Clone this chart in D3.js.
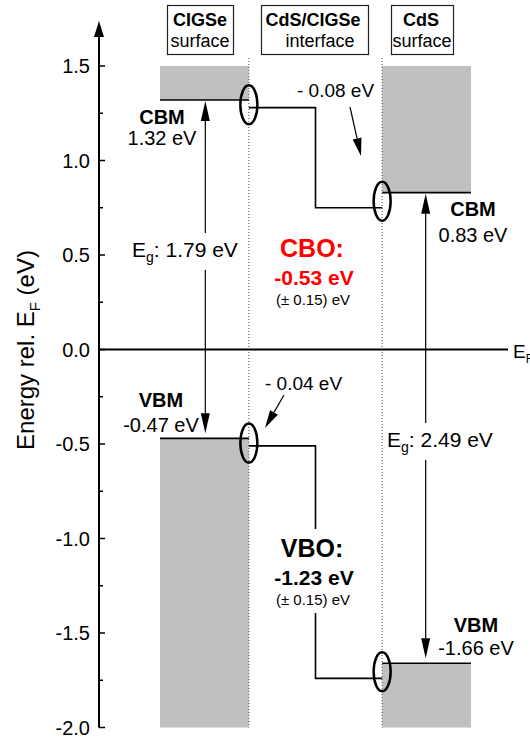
<!DOCTYPE html>
<html>
<head>
<meta charset="utf-8">
<script src="https://cdn.jsdelivr.net/npm/d3@7"></script>
<style>
body { margin: 0; background: #fff; }
text { font-family: "Liberation Sans", Arial, sans-serif; }
</style>
</head>
<body>
<div id="chart"></div>
<script>
// band positions in eV, relative to E_F
let regionTitle = ["CIGSe", "CdS/CIGSe", "CdS"];
let regionSub = ["surface", "interface", "surface"];
let cbm = [1.32, 0.83];          // CIGSe, CdS (surface)
let vbm = [-0.47, -1.66];
let ifShift = [-0.04, -0.08];    // shift at the interface
let gaps = [1.79, 2.49];
let cbo = -0.53, vbo = -1.23, offErr = 0.15;
let yTicks = [-2.0, -1.5, -1.0, -0.5, 0.0, 0.5, 1.0, 1.5];
let yMinor = [-1.75, -1.25, -0.75, -0.25, 0.25, 0.75, 1.25];

let width = 530, height = 738;
let svg = d3.select('#chart').append('svg')
    .attr('width', width)
    .attr('height', height);

// plain hyphen minus like the original
let fmt = v => d3.format('.2f')(v).replace('\u2212', '-');
let fmt1 = v => d3.format('.1f')(v).replace('\u2212', '-');

// x in "region units": CIGSe 0..1, interface 1..2.5, CdS 2.5..3.5
let x = d3.scaleLinear().domain([0, 3.5]).range([160, 471]);
let y = d3.scaleLinear().domain([-2, 1.5]).range([727.5, 66]);
let axisX = 99;

function arrow(g, x1, y1, x2, y2, len, hw, sw) {
    let a = Math.atan2(y2 - y1, x2 - x1);
    let bx = x2 - len * Math.cos(a), by = y2 - len * Math.sin(a);
    g.append('line').attr('x1', x1).attr('y1', y1).attr('x2', bx).attr('y2', by)
        .attr('stroke', '#000').attr('stroke-width', sw);
    let px = -Math.sin(a) * hw, py = Math.cos(a) * hw;
    g.append('path')
        .attr('d', `M${x2},${y2}L${bx + px},${by + py}L${bx - px},${by - py}Z`)
        .attr('fill', '#000');
}

function withBg(g, padX, padY) {
    let b = g.node().getBBox();
    g.insert('rect', ':first-child')
        .attr('x', b.x - padX).attr('y', b.y - padY)
        .attr('width', b.width + 2 * padX).attr('height', b.height + 2 * padY)
        .attr('fill', '#fff');
}

let cbIf = cbm.map((d, i) => d + ifShift[i]);
let vbIf = vbm.map((d, i) => d + ifShift[i]);

// gray bands
let bands = svg.append('g').attr('fill', '#c0c0c0');
bands.append('rect').attr('x', x(0)).attr('width', x(1) - x(0))
    .attr('y', y(1.5)).attr('height', y(cbm[0]) - y(1.5));
bands.append('rect').attr('x', x(0)).attr('width', x(1) - x(0))
    .attr('y', y(vbm[0])).attr('height', y(-2) - y(vbm[0]));
bands.append('rect').attr('x', x(2.5)).attr('width', x(3.5) - x(2.5))
    .attr('y', y(1.5)).attr('height', y(cbm[1]) - y(1.5));
bands.append('rect').attr('x', x(2.5)).attr('width', x(3.5) - x(2.5))
    .attr('y', y(vbm[1])).attr('height', y(-2) - y(vbm[1]));

// dotted interface boundaries
[1, 2.5].forEach(v => {
    svg.append('line').attr('x1', x(v)).attr('x2', x(v))
        .attr('y1', 58).attr('y2', y(-2))
        .attr('stroke', '#666').attr('stroke-width', 1.2)
        .attr('stroke-dasharray', '1,2');
});

// E_F line
svg.append('line').attr('x1', axisX).attr('x2', 508)
    .attr('y1', y(0)).attr('y2', y(0))
    .attr('stroke', '#000').attr('stroke-width', 2);
let ef = svg.append('text').attr('x', 513).attr('y', y(0) + 8)
    .attr('font-size', 19).text('E');
ef.append('tspan').attr('font-size', 12).attr('dy', 5).text('F');

// band edges
let line = d3.line().x(d => x(d[0])).y(d => y(d[1]));
let edges = svg.append('g').attr('fill', 'none').attr('stroke', '#000').attr('stroke-width', 1.6);
edges.append('path').attr('d', line([[0, cbm[0]], [1, cbm[0]]]));
edges.append('path').attr('d', line([[1, cbIf[0]], [1.75, cbIf[0]], [1.75, cbIf[1]], [2.5, cbIf[1]]]));
edges.append('path').attr('d', line([[2.5, cbm[1]], [3.5, cbm[1]]]));
edges.append('path').attr('d', line([[0, vbm[0]], [1, vbm[0]]]));
edges.append('path').attr('d', line([[1, vbIf[0]], [1.75, vbIf[0]], [1.75, vbIf[1]], [2.5, vbIf[1]]]));
edges.append('path').attr('d', line([[2.5, vbm[1]], [3.5, vbm[1]]]));

// ellipses at interface
let ells = [[1, cbm[0], cbIf[0]], [2.5, cbm[1], cbIf[1]], [1, vbm[0], vbIf[0]], [2.5, vbm[1], vbIf[1]]];
svg.append('g').selectAll('ellipse').data(ells).enter().append('ellipse')
    .attr('cx', d => x(d[0]))
    .attr('cy', d => (y(d[1]) + y(d[2])) / 2 + 1)
    .attr('rx', 8.5).attr('ry', 19.5)
    .attr('fill', 'none').attr('stroke', '#000').attr('stroke-width', 2.5);

// band gap arrows
let gx = [0.51, 2.99];
let gapG = svg.append('g');
gaps.forEach((gp, i) => {
    let xx = x(gx[i]);
    let mid = (y(cbm[i]) + y(vbm[i])) / 2;
    arrow(gapG, xx, mid, xx, y(cbm[i]) + 1, 20, 4.5, 1.2);
    arrow(gapG, xx, mid, xx, y(vbm[i]) - 5, 20, 4.5, 1.2);
});
let egPos = [[132, 257], [387, 447]];
gaps.forEach((gp, i) => {
    let t = svg.append('g');
    let tx = t.append('text').attr('x', egPos[i][0]).attr('y', egPos[i][1]).attr('font-size', 21);
    tx.append('tspan').text('E');
    tx.append('tspan').attr('font-size', 14).attr('dy', 5).text('g');
    tx.append('tspan').attr('dy', -5).text(': ' + fmt(gp) + ' eV');
    withBg(t, 1, 5);
});

// interface shift arrows
arrow(svg, 350, 107, 361, 156, 18, 4.5, 1.2);
arrow(svg, 284, 395, 265, 428, 18, 4.5, 1.2);
svg.append('text').attr('x', 297).attr('y', 97).attr('font-size', 19)
    .text('- ' + fmt(-ifShift[1]) + ' eV');
svg.append('text').attr('x', 265).attr('y', 390).attr('font-size', 19)
    .text('- ' + fmt(-ifShift[0]) + ' eV');

// CBM / VBM labels
function bandLabel(cx, yName, yVal, name, val) {
    svg.append('text').attr('x', cx).attr('y', yName).attr('text-anchor', 'middle')
        .attr('font-size', 20).attr('font-weight', 'bold').text(name);
    svg.append('text').attr('x', cx).attr('y', yVal).attr('text-anchor', 'middle')
        .attr('font-size', 20).text(fmt(val) + ' eV');
}
bandLabel(162, 124, 145, 'CBM', cbm[0]);
bandLabel(161, 407, 432, 'VBM', vbm[0]);
bandLabel(473, 216, 242, 'CBM', cbm[1]);
bandLabel(476, 632, 655, 'VBM', vbm[1]);

// offsets
function offLabel(g, cy, name, val, col) {
    g.append('text').attr('x', 312).attr('y', cy).attr('text-anchor', 'middle')
        .attr('font-size', 25).attr('font-weight', 'bold').attr('fill', col).text(name);
    g.append('text').attr('x', 314).attr('y', cy + 28).attr('text-anchor', 'middle')
        .attr('font-size', 21).attr('font-weight', 'bold').attr('fill', col).text(fmt(val) + ' eV');
    g.append('text').attr('x', 313).attr('y', cy + 48).attr('text-anchor', 'middle')
        .attr('font-size', 15).attr('fill', '#000').text('(\u00b1 ' + fmt(offErr) + ') eV');
}
offLabel(svg.append('g'), 257, 'CBO:', cbo, '#ff0000');
let vboG = svg.append('g');
offLabel(vboG, 557, 'VBO:', vbo, '#000');
withBg(vboG, 0, 5);

// header boxes
let boxes = [[167, 66], [261, 107], [391, 62]];
let boxTxt = [[200, 200], [313, 320], [421, 422]];
regionTitle.forEach((t, i) => {
    let g = svg.append('g');
    g.append('rect').attr('x', boxes[i][0] + 0.5).attr('y', 5.5)
        .attr('width', boxes[i][1]).attr('height', 49)
        .attr('fill', '#fff').attr('stroke', '#222').attr('stroke-width', 1.2);
    g.append('text').attr('x', boxTxt[i][0]).attr('y', 26).attr('text-anchor', 'middle')
        .attr('font-size', 18).attr('font-weight', 'bold').text(t);
    g.append('text').attr('x', boxTxt[i][1]).attr('y', 47).attr('text-anchor', 'middle')
        .attr('font-size', 18).text(regionSub[i]);
});

// y axis
let yax = svg.append('g');
yax.append('line').attr('x1', axisX).attr('x2', axisX)
    .attr('y1', y(-2)).attr('y2', 34)
    .attr('stroke', '#000').attr('stroke-width', 2);
yax.append('path')
    .attr('d', `M${axisX},21L${axisX - 5},37L${axisX + 5},37Z`).attr('fill', '#000');
yax.selectAll('.major').data(yTicks).enter().append('line')
    .attr('x1', axisX).attr('x2', axisX + 6)
    .attr('y1', d => y(d)).attr('y2', d => y(d))
    .attr('stroke', '#000').attr('stroke-width', 1.5);
yax.selectAll('.minor').data(yMinor).enter().append('line')
    .attr('x1', axisX).attr('x2', axisX + 4)
    .attr('y1', d => y(d)).attr('y2', d => y(d))
    .attr('stroke', '#000').attr('stroke-width', 1.5);
yax.selectAll('.lab').data(yTicks).enter().append('text')
    .attr('x', axisX - 9).attr('y', d => y(d)).attr('dy', '0.36em')
    .attr('text-anchor', 'end').attr('font-size', 20)
    .text(d => fmt1(d));

let title = svg.append('text')
    .attr('transform', `translate(34,350) rotate(-90)`)
    .attr('text-anchor', 'middle').attr('font-size', 24);
title.append('tspan').text('Energy rel. E');
title.append('tspan').attr('font-size', 15).attr('dy', 6).text('F');
title.append('tspan').attr('dy', -6).text(' (eV)');
</script>
</body>
</html>
